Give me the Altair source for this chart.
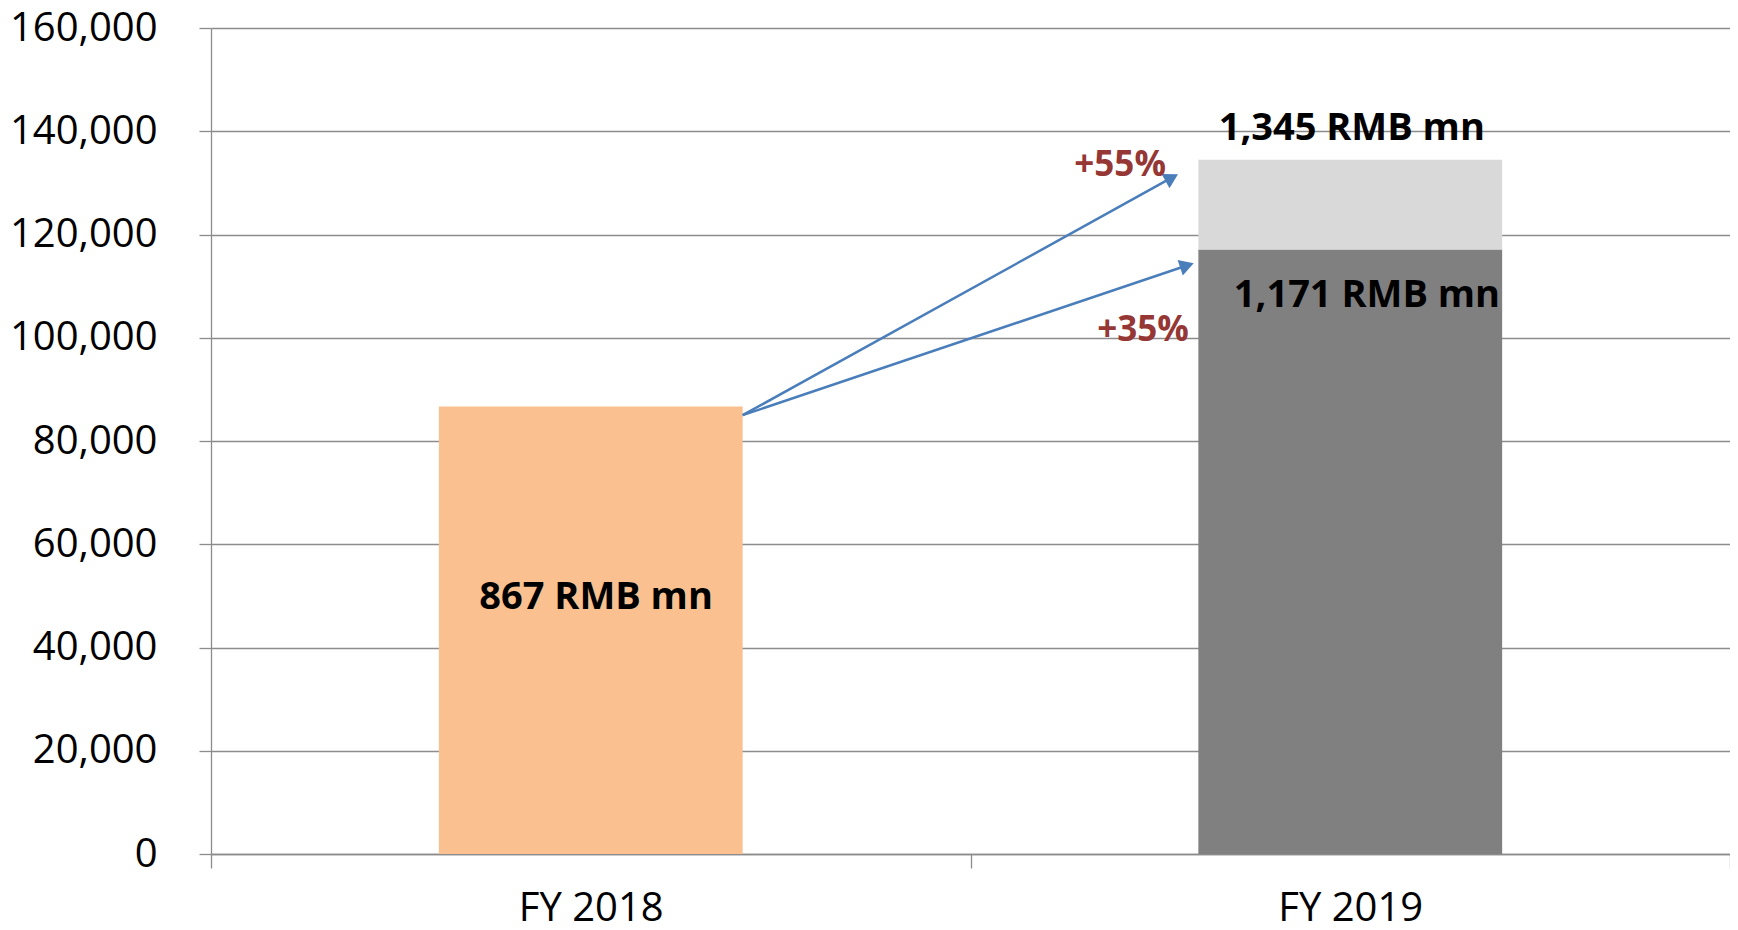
import altair as alt
import pandas as pd

# ---- data ----
categories = ["FY 2018", "FY 2019", "FY 2019"]
segments = ["FY 2018 total", "FY 2019 base", "FY 2019 increment"]
bar_start = [0, 0, 117100]
bar_end = [86700, 117100, 134500]
bar_colors = ["#FAC090", "#808080", "#D9D9D9"]

label_text = ["867 RMB mn", "1,171 RMB mn", "1,345 RMB mn"]
label_x = [0.507, 1.522, 1.502]
label_y = [49600, 108100, 140400]

growth_text = ["+55%", "+35%"]
growth_x = [1.197, 1.227]
growth_y = [133500, 101500]

arrow_id = ["a55", "a35"]
arrow_x_start = [0.70, 0.70]
arrow_y_start = [85000, 85000]
arrow_x_end = [1.265, 1.285]
arrow_y_end = [131000, 114000]
arrow_head_angle = [61, 71.5]

y_ticks = [0, 20000, 40000, 60000, 80000, 100000, 120000, 140000, 160000]

FONT = "Open Sans"
GRID = "#8C8C8C"

bars_df = pd.DataFrame({"category": categories, "segment": segments,
                        "start": bar_start, "end": bar_end})
labels_df = pd.DataFrame({"text": label_text, "x": label_x, "y": label_y})
growth_df = pd.DataFrame({"text": growth_text, "x": growth_x, "y": growth_y})
arrow_lines_df = pd.DataFrame({
    "id": arrow_id * 2,
    "order": [0, 0, 1, 1],
    "x": arrow_x_start + arrow_x_end,
    "y": arrow_y_start + arrow_y_end,
})
arrow_heads_df = pd.DataFrame({"id": arrow_id, "x": arrow_x_end,
                               "y": arrow_y_end, "angle": arrow_head_angle})

y_scale = alt.Scale(domain=[0, 160000], nice=False)
y_axis = alt.Axis(values=y_ticks, labelExpr="format(datum.value, ',')", title=None,
                  labelFontSize=40, labelFont=FONT, labelColor="black", labelPadding=42,
                  tickSize=12, tickColor=GRID, domainColor=GRID, gridColor=GRID,
                  tickWidth=1.3, domainWidth=1.3, gridWidth=1.3, grid=True)

bars = alt.Chart(bars_df).mark_bar(opacity=1, width=alt.RelativeBandSize(0.4)).encode(
    x=alt.X("category:N", sort=["FY 2018", "FY 2019"],
            scale=alt.Scale(paddingInner=0, paddingOuter=0),
            axis=alt.Axis(title=None, labelAngle=0, tickBand="extent",
                          labelFontSize=40, labelFont=FONT, labelColor="black",
                          labelPadding=20, tickSize=14, tickColor=GRID,
                          domainColor=GRID, tickWidth=1.3, domainWidth=1.3,
                          grid=False)),
    y=alt.Y("start:Q", scale=y_scale, axis=y_axis),
    y2="end:Q",
    color=alt.Color("segment:N", scale=alt.Scale(domain=segments, range=bar_colors),
                    legend=None),
)

x_over = alt.X("x:Q", scale=alt.Scale(domain=[0, 2], nice=False, zero=False), axis=None)
y_over = alt.Y("y:Q", scale=y_scale, axis=None)

arrow_lines = alt.Chart(arrow_lines_df).mark_line(color="#4A7EBB", strokeWidth=2.5).encode(
    x=x_over, y=y_over, detail="id:N", order="order:Q")

arrow_heads = alt.Chart(arrow_heads_df).mark_point(
    shape="triangle-up", filled=True, size=270, color="#4A7EBB", opacity=1
).encode(x=x_over, y=y_over, angle=alt.Angle("angle:Q", scale=None))

labels = alt.Chart(labels_df).mark_text(
    fontSize=38, fontWeight="bold", font=FONT, color="black",
    align="center", baseline="middle"
).encode(x=x_over, y=y_over, text="text:N")

growth = alt.Chart(growth_df).mark_text(
    fontSize=35, fontWeight="bold", font=FONT, color="#953735",
    align="center", baseline="middle"
).encode(x=x_over, y=y_over, text="text:N")

overlay = alt.layer(arrow_lines, arrow_heads, labels, growth)

chart = alt.layer(bars, overlay).resolve_scale(x="independent").resolve_axis(
    y="independent"
).properties(
    width=1519, height=826,
    autosize=alt.AutoSizeParams(type="none"),
    padding={"left": 203, "top": 20, "right": 0, "bottom": 68},
    background="white",
).configure_view(stroke=None)

chart.save("out.html", embed_options={"renderer": "svg", "actions": False})
